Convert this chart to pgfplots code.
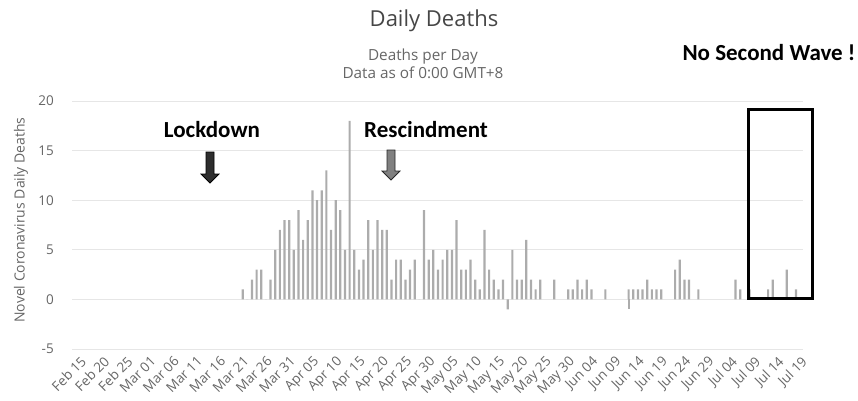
\documentclass[border=0pt]{standalone}
\usepackage{fontspec}
\setmainfont{Open Sans}
\newfontfamily\annfont{Carlito}
\usepackage{pgfplots}
\usepackage{pgfplotstable}
\pgfplotsset{compat=1.18}

\definecolor{bargray}{RGB}{172,172,172}
\definecolor{gridc}{RGB}{230,230,230}
\definecolor{labc}{RGB}{102,102,102}
\definecolor{titc}{RGB}{70,70,70}

% day 0 = Feb 15, 2020
\pgfplotstableread{
day val
35 1
36 0
37 2
38 3
39 3
40 0
41 2
42 5
43 7
44 8
45 8
46 5
47 9
48 6
49 8
50 11
51 10
52 11
53 13
54 7
55 10
56 9
57 5
58 18
59 5
60 3
61 4
62 8
63 5
64 8
65 7
66 7
67 2
68 4
69 4
70 2
71 3
72 4
73 0
74 9
75 4
76 5
77 3
78 4
79 5
80 5
81 8
82 3
83 3
84 4
85 2
86 1
87 7
88 3
89 2
90 1
91 2
92 -1
93 5
94 2
95 2
96 6
97 2
98 1
99 2
102 2
105 1
106 1
107 2
108 1
109 2
110 1
113 1
118 1
119 1
120 1
121 1
122 2
123 1
124 1
125 1
128 3
129 4
130 2
131 2
133 1
141 2
142 1
144 1
148 1
149 2
152 3
154 1
}\deaths

\pgfplotstableread{
day val
118 -1
}\adjust

\begin{document}
\begin{tikzpicture}
\useasboundingbox (-72pt,-51pt) rectangle (786pt,349pt);
\begin{axis}[
  at={(0pt,0pt)}, anchor=south west,
  width=731pt, height=248pt, scale only axis,
  xmin=-1.7, xmax=155.5, ymin=-5, ymax=20,
  axis line style={draw=none},
  major tick length=0pt,
  ytick={-5,0,5,10,15,20},
  ymajorgrids, grid style={gridc, line width=1pt},
  xtick={0,5,...,155},
  xticklabels={Feb 15,Feb 20,Feb 25,Mar 01,Mar 06,Mar 11,Mar 16,Mar 21,Mar 26,Mar 31,Apr 05,Apr 10,Apr 15,Apr 20,Apr 25,Apr 30,May 05,May 10,May 15,May 20,May 25,May 30,Jun 04,Jun 09,Jun 14,Jun 19,Jun 24,Jun 29,Jul 04,Jul 09,Jul 14,Jul 19},
  xticklabel style={xshift=0pt, yshift=-6pt, rotate=45, anchor=north east, inner sep=0pt, font=\fontsize{13.5}{15}\selectfont, text=labc},
  yticklabel style={anchor=east, inner sep=0pt, xshift=-18pt, font=\fontsize{13.5}{15}\selectfont, text=labc},
  /pgf/number format/assume math mode=true,
  ylabel={Novel Coronavirus Daily Deaths},
  every axis y label/.style={at={(rel axis cs:0,0.5)}, xshift=-51pt, yshift=5pt, rotate=90, anchor=center, font=\fontsize{14}{16}\selectfont, text=labc},
  clip=false,
]
\addplot[ybar, bar shift=0pt, bar width=2.2pt, fill=bargray, draw=none] table[x=day, y=val]{\deaths};
\addplot[ybar, bar shift=0pt, bar width=2.2pt, fill=bargray, draw=none] table[x=day, y=val]{\adjust};
\end{axis}

% titles
\node[text=titc, font=\fontsize{22}{25}\selectfont] at (362pt,328pt) {Daily Deaths};
\node[text=labc, font=\fontsize{15.3}{17}\selectfont] at (351pt,292pt) {Deaths per Day};
\node[text=labc, font=\fontsize{15.3}{17}\selectfont] at (351pt,276pt) {Data as of 0:00 GMT+8};

% annotations
\node[font=\annfont\bfseries\fontsize{23}{26}\selectfont] at (140pt,219pt) {Lockdown};
\node[font=\annfont\bfseries\fontsize{23}{26}\selectfont] at (354pt,219pt) {Rescindment};
\node[font=\annfont\bfseries\fontsize{23}{26}\selectfont] at (697pt,296pt) {No Second Wave !};

\draw[fill={rgb,255:red,45;green,45;blue,45}, draw=black, line width=0.8pt]
  (134pt,197pt) -- (142pt,197pt) -- (142pt,175pt) -- (147pt,175pt) -- (138pt,166pt) -- (129pt,175pt) -- (134pt,175pt) -- cycle;
\draw[fill={rgb,255:red,128;green,128;blue,128}, draw={rgb,255:red,40;green,40;blue,40}, line width=0.8pt]
  (315pt,199pt) -- (323pt,199pt) -- (323pt,178pt) -- (328pt,178pt) -- (319pt,169pt) -- (310pt,178pt) -- (315pt,178pt) -- cycle;

\draw[black, line width=3pt] (676pt,240pt) rectangle (740pt,51pt);
\end{tikzpicture}
\end{document}
